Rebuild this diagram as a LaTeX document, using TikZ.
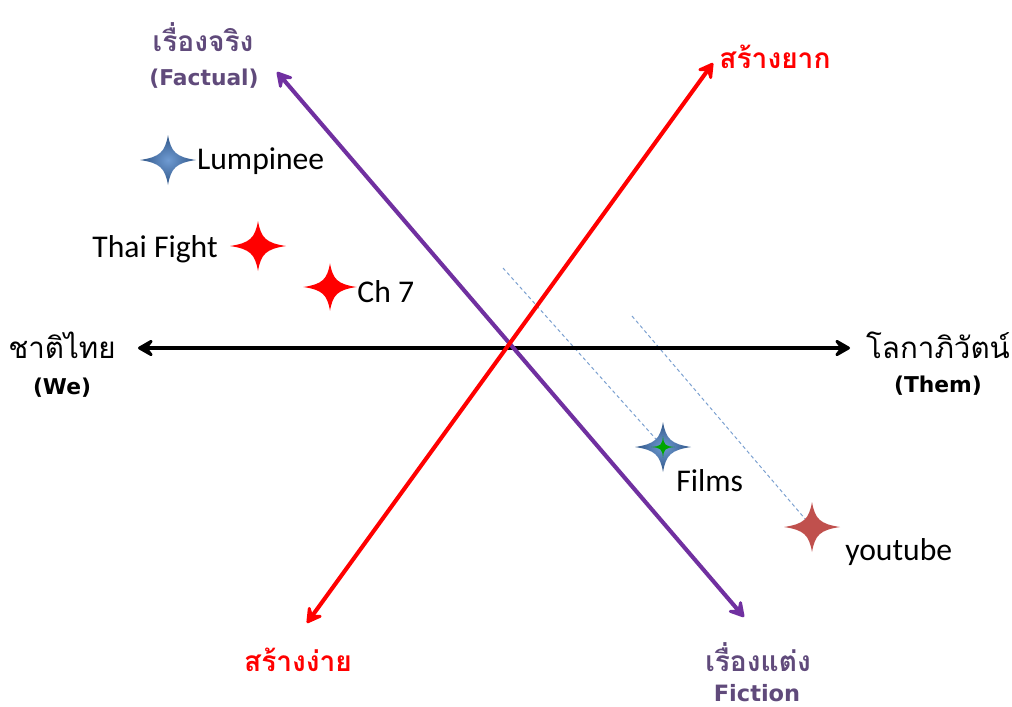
\documentclass[tikz,border=0pt]{standalone}
\usepackage{fontspec}
\setmainfont{Carlito}
\newfontfamily\thaifont[Script=Thai]{Loma}
\newfontfamily\latinbold{DejaVu Sans}
\usetikzlibrary{arrows.meta,positioning}

\definecolor{axispurple}{HTML}{7030A0}
\definecolor{labelpurple}{HTML}{604A7B}
\definecolor{starblue}{HTML}{2F5587}
\definecolor{starlight}{HTML}{6F9BD2}
\definecolor{starred}{HTML}{C0504D}
\definecolor{dashblue}{HTML}{7BA0D0}

\tikzset{
  axis/.style={line width=2.9pt,{Stealth[length=14pt,width=16pt,inset=6pt,round]}-{Stealth[length=14pt,width=16pt,inset=6pt,round]}},
  sparkle/.pic={
    \path[pic actions] (0,-25) .. controls (-3,-8) and (-8,-3) .. (-28,0)
      .. controls (-8,3) and (-3,8) .. (0,25)
      .. controls (3,8) and (8,3) .. (28,0)
      .. controls (8,-3) and (3,-8) .. (0,-25) -- cycle;
  },
  smallsparkle/.pic={
    \path[pic actions] (0,-11) .. controls (-0.8,-2) and (-2,-0.8) .. (-12,0)
      .. controls (-2,0.8) and (-0.8,2) .. (0,11)
      .. controls (0.8,2) and (2,0.8) .. (12,0)
      .. controls (2,-0.8) and (0.8,-2) .. (0,-11) -- cycle;
  },
  bluestar/.style={shading=radial,inner color=starlight,outer color=starblue},
  thailabel/.style={font=\thaifont\fontsize{21}{24}\selectfont,inner sep=1pt},
  thaibold/.style={font=\thaifont\bfseries\fontsize{20}{24}\selectfont,inner sep=1pt},
  sublabel/.style={font=\latinbold\bfseries\fontsize{15.5}{18}\selectfont,inner sep=1pt},
  starlabel/.style={font=\fontsize{22.5}{26}\selectfont,inner sep=0pt},
  guide/.style={dashblue,dash pattern=on 2.5pt off 2pt,line width=0.7pt,shorten >=6pt}
}

\begin{document}
\begin{tikzpicture}[x=0.025cm,y=-0.025cm]
\useasboundingbox (0,0) rectangle (1012,706);

% axis end points
\coordinate (weEnd) at (138,348);
\coordinate (themEnd) at (850,348);
\coordinate (factEnd) at (277,72);
\coordinate (fictEnd) at (744,617);
\coordinate (hardEnd) at (713,63);
\coordinate (easyEnd) at (307,623);

% star centres and guide starts
\coordinate (lump) at (168,160);
\coordinate (thaifight) at (258,246);
\coordinate (ch7) at (330,287);
\coordinate (films) at (663,447);
\coordinate (tube) at (812,527);
\coordinate (filmsGuide) at (503,268);
\coordinate (tubeGuide) at (632,316);

% guides
\draw[guide] (filmsGuide) -- (films);
\draw[guide] (tubeGuide) -- (tube);

% axes
\draw[axis,black] (weEnd) -- (themEnd);
\draw[axis,axispurple] (factEnd) -- (fictEnd);
\draw[axis,red] (easyEnd) -- (hardEnd);

% stars
\pic[bluestar] at (lump) {sparkle};
\pic[fill=red] at (thaifight) {sparkle};
\pic[fill=red,scale=0.95] at (ch7) {sparkle};
\pic[bluestar] at (films) {sparkle};
\pic[fill=green!65!black] at (films) {smallsparkle};
\pic[fill=starred] at (tube) {sparkle};

% axis labels
\node[thaibold,labelpurple] (fact) at (203,37) {เรื่องจริง};
\node[sublabel,labelpurple] (factEn) at (204,79) {(Factual)};
\node[thailabel] (we) at (62,345) {ชาติไทย};
\node[sublabel] (weEn) at (62,388) {(We)};
\node[thailabel] (them) at (938,345) {โลกาภิวัตน์};
\node[sublabel] (themEn) at (938,386) {(Them)};
\node[thaibold,red] (hard) at (775,57) {สร้างยาก};
\node[thaibold,red] (easy) at (298,660) {สร้างง่าย};
\node[thaibold,labelpurple] (fict) at (758,657) {เรื่องแต่ง};
\node[sublabel,labelpurple,font=\latinbold\bfseries\fontsize{16}{18}\selectfont] (fictEn) at (757,693) {Fiction};

% star labels
\node[starlabel,right=0.72cm of lump,anchor=west,yshift=-1pt] (lumpText) {Lumpinee};
\node[starlabel,left=1.0cm of thaifight,anchor=east,yshift=-2pt] (thaifightText) {Thai Fight};
\node[starlabel,right=0.68cm of ch7,anchor=west,yshift=-3pt] (ch7Text) {Ch 7};
\node[starlabel,anchor=west] (filmsText) at (676,481) {Films};
\node[starlabel,anchor=west] (tubeText) at (845,552) {youtube};
\end{tikzpicture}
\end{document}
